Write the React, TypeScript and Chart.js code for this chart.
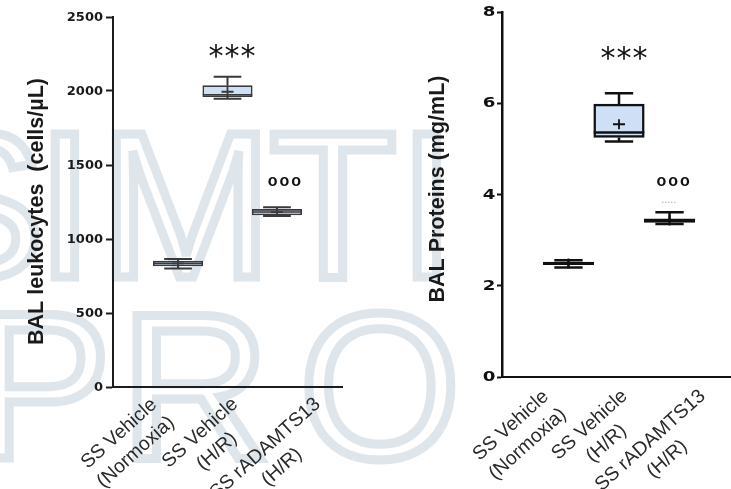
import React, { useEffect, useRef } from "react";
import { Chart, registerables } from "chart.js";

Chart.register(...registerables);

// ---------------- data ----------------
const categoryLabels: string[][] = [
  ["SS Vehicle", "(Normoxia)"],
  ["SS Vehicle", "(H/R)"],
  ["SS rADAMTS13", "(H/R)"],
];
const groupPositions = [1, 2, 3];

const leukMin = [800, 1948, 1155];
const leukQ1 = [818, 1961, 1162];
const leukMedian = [835, 1975, 1182];
const leukQ3 = [851, 2036, 1200];
const leukMax = [865, 2097, 1214];
const leukMean = [835, 1995, 1182];
const leukTicks = [0, 500, 1000, 1500, 2000, 2500];
const leukTitle = "BAL leukocytes  (cells/µL)";
const leukAnnotations = [
  { x: 2.1, y: 2264, text: "***" },
  { x: 3.17, y: 1375, text: "ooo" },
];

const protMin = [2.4, 5.16, 3.355];
const protQ1 = [2.46, 5.25, 3.39];
const protMedian = [2.49, 5.36, 3.43];
const protQ3 = [2.52, 5.98, 3.465];
const protMax = [2.56, 6.22, 3.61];
const protMean = [2.49, 5.54, 3.43];
const protTicks = [0, 2, 4, 6, 8];
const protTitle = "BAL Proteins (mg/mL)";
const protAnnotations = [
  { x: 2.11, y: 7.08, text: "***" },
  { x: 3.09, y: 4.23, text: "ooo" },
];
const protDots = [{ x: 3, y: 3.83 }];

const watermarkTop = ["S", "I", "M", "T", "I"];
const watermarkBottom = ["P", "R", "O"];

// ---------------- styles ----------------
type PanelData = {
  min: number[]; q1: number[]; median: number[]; q3: number[]; max: number[]; mean: number[];
  ticks: number[]; title: string; annotations: { x: number; y: number; text: string }[];
  dots: { x: number; y: number }[];
};
type PanelStyle = {
  left: number; width: number;
  areaLeft: number; areaRight: number; areaTop: number; areaBottom: number;
  yMax: number; axisColor: string; yAxisWidth: number;
  tickLen: number; tickGap: number; tickFont: string; tickScaleX: number; tickColor: string;
  boxStroke: string; lineW: number; boxBorder: number;
  titleX: number; titleY: number;
  labelDy: number; labelDx: number[];
};

const H = 489;
const BOX_FILL = "#cfe0f6";
const CAP_WIDTH = 0.56;
const LABEL_FONT = '19.5px "Liberation Sans"';
const LABEL_ANGLE = 42;
const LABEL_LINE_H = 25;
const LABEL_CAP = 14;

const leftStyle: PanelStyle = {
  left: 0, width: 365,
  areaLeft: 113, areaRight: 342, areaTop: 17, areaBottom: 387,
  yMax: 2500, axisColor: "#1c1c1c", yAxisWidth: 2,
  tickLen: 7, tickGap: 3, tickFont: 'bold 13px "DejaVu Sans"', tickScaleX: 1, tickColor: "#1a1a1a",
  boxStroke: "#3a3a3a", lineW: 2, boxBorder: 1.6,
  titleX: 43, titleY: 211.5,
  labelDy: 8, labelDx: [-2, 2, 8],
};
const rightStyle: PanelStyle = {
  left: 365, width: 380,
  areaLeft: 137, areaRight: 371, areaTop: 12, areaBottom: 377,
  yMax: 8, axisColor: "#111", yAxisWidth: 2.5,
  tickLen: 5, tickGap: 1.5, tickFont: 'bold 14px "DejaVu Sans"', tickScaleX: 1.3, tickColor: "#111",
  boxStroke: "#111", lineW: 2.5, boxBorder: 2.5,
  titleX: 78.5, titleY: 189,
  labelDy: 10, labelDx: [0, 0, 0],
};

function makePlugin(d: PanelData, st: PanelStyle) {
  return {
    id: "boxExtras",
    afterDatasetsDraw(chart: any) {
      const ctx = chart.ctx as CanvasRenderingContext2D;
      const xs = chart.scales.xb;
      const ys = chart.scales.y;
      const unit = xs.getPixelForValue(1) - xs.getPixelForValue(0);
      const meta = chart.getDatasetMeta(0);
      ctx.save();
      ctx.strokeStyle = st.boxStroke;
      ctx.lineWidth = st.lineW;
      groupPositions.forEach((pos, i) => {
        const cx = xs.getPixelForValue(pos);
        const hc = (unit * CAP_WIDTH) / 2;
        const yMax = ys.getPixelForValue(d.max[i]);
        const yQ3 = ys.getPixelForValue(d.q3[i]);
        const yQ1 = ys.getPixelForValue(d.q1[i]);
        const yMin = ys.getPixelForValue(d.min[i]);
        const yMed = ys.getPixelForValue(d.median[i]);
        const yMean = ys.getPixelForValue(d.mean[i]);
        ctx.beginPath();
        ctx.moveTo(cx, yMax); ctx.lineTo(cx, yQ3);
        ctx.moveTo(cx, yQ1); ctx.lineTo(cx, yMin);
        ctx.moveTo(cx - hc, yMax); ctx.lineTo(cx + hc, yMax);
        ctx.moveTo(cx - hc, yMin); ctx.lineTo(cx + hc, yMin);
        ctx.stroke();
        const bw = meta.data[i].width;
        ctx.lineWidth = st.boxBorder;
        ctx.beginPath();
        ctx.moveTo(cx - bw / 2, yMed); ctx.lineTo(cx + bw / 2, yMed);
        ctx.stroke();
        ctx.lineWidth = 1.8;
        ctx.beginPath();
        ctx.moveTo(cx - 6, yMean); ctx.lineTo(cx + 6, yMean);
        ctx.moveTo(cx, yMean - 5); ctx.lineTo(cx, yMean + 5);
        ctx.stroke();
        ctx.lineWidth = st.lineW;
      });
      // annotations
      d.annotations.forEach((a) => {
        const x = xs.getPixelForValue(a.x);
        const y = ys.getPixelForValue(a.y);
        ctx.fillStyle = "#111";
        ctx.textAlign = "center";
        ctx.textBaseline = "middle";
        if (a.text === "***") {
          ctx.font = '30px "DejaVu Sans"';
          (ctx as any).letterSpacing = "1px";
          ctx.fillText(a.text, x, y + 6);
        } else {
          ctx.font = 'bold 16px "Liberation Sans"';
          (ctx as any).letterSpacing = "2px";
          ctx.fillText(a.text, x, y - 2);
        }
        (ctx as any).letterSpacing = "0px";
      });
      d.dots.forEach((p) => {
        const x = xs.getPixelForValue(p.x);
        const y = ys.getPixelForValue(p.y);
        ctx.strokeStyle = "#aaa";
        ctx.lineWidth = 1;
        ctx.setLineDash([1.5, 1.5]);
        ctx.beginPath();
        ctx.moveTo(x - unit * 0.15, y); ctx.lineTo(x + unit * 0.15, y);
        ctx.stroke();
        ctx.setLineDash([]);
      });
      ctx.restore();
    },
    afterDraw(chart: any) {
      const ctx = chart.ctx as CanvasRenderingContext2D;
      const ca = chart.chartArea;
      const ys = chart.scales.y;
      const xc = chart.scales.x;
      ctx.save();
      // y tick labels
      ctx.font = st.tickFont;
      ctx.fillStyle = st.tickColor;
      ctx.textAlign = "right";
      ctx.textBaseline = "middle";
      d.ticks.forEach((v) => {
        const y = ys.getPixelForValue(v);
        ctx.save();
        ctx.translate(ca.left - st.tickLen - st.tickGap, y + 0.5);
        ctx.scale(st.tickScaleX, 1);
        ctx.fillText(String(v), 0, 0);
        ctx.restore();
      });
      // x category labels
      ctx.font = LABEL_FONT;
      ctx.fillStyle = "#2a2a2a";
      ctx.textAlign = "center";
      ctx.textBaseline = "alphabetic";
      categoryLabels.forEach((lines, i) => {
        const px = xc.getPixelForValue(i) + st.labelDx[i];
        const py = ca.bottom + st.labelDy;
        const maxW = Math.max(...lines.map((l) => ctx.measureText(l).width));
        ctx.save();
        ctx.translate(px, py);
        ctx.rotate((-LABEL_ANGLE * Math.PI) / 180);
        lines.forEach((l, j) => ctx.fillText(l, -maxW / 2, LABEL_CAP + j * LABEL_LINE_H));
        ctx.restore();
      });
      // y title
      ctx.font = 'bold 21.5px "Liberation Sans"';
      ctx.fillStyle = "#1a1a1a";
      ctx.textAlign = "center";
      ctx.textBaseline = "alphabetic";
      ctx.translate(st.titleX, st.titleY);
      ctx.rotate(-Math.PI / 2);
      ctx.fillText(d.title, 0, 0);
      ctx.restore();
    },
  };
}

function Panel({ d, st }: { d: PanelData; st: PanelStyle }) {
  const ref = useRef<HTMLCanvasElement | null>(null);
  useEffect(() => {
    if (!ref.current) return;
    const chart = new Chart(ref.current, {
      type: "bar",
      data: {
        labels: categoryLabels as any,
        datasets: [
          {
            data: groupPositions.map((p, i) => ({ x: p, y: [d.q1[i], d.q3[i]] })) as any,
            xAxisID: "xb",
            yAxisID: "y",
            backgroundColor: BOX_FILL,
            borderColor: st.boxStroke,
            borderWidth: st.boxBorder,
            borderSkipped: false,
            barPercentage: 1.0,
            categoryPercentage: 1,
          },
        ],
      },
      options: {
        animation: false,
        responsive: true,
        maintainAspectRatio: false,
        devicePixelRatio: 1,
        layout: { padding: { top: st.areaTop, right: st.width - st.areaRight, left: 0, bottom: 0 } },
        plugins: { legend: { display: false }, tooltip: { enabled: false }, title: { display: false } },
        scales: {
          x: {
            type: "category",
            position: "bottom",
            offset: true,
            grid: { display: false },
            ticks: { display: false },
            border: { display: true, color: st.axisColor, width: 2 },
            afterFit: (s: any) => { s.height = H - st.areaBottom; },
          },
          xb: { type: "linear", display: false, min: -0.315, max: 4.315, offset: false },
          y: {
            type: "linear",
            position: "left",
            min: 0,
            max: st.yMax,
            afterBuildTicks: (s: any) => { s.ticks = d.ticks.map((v) => ({ value: v })); },
            ticks: { display: false },
            grid: { display: true, drawOnChartArea: false, drawTicks: true, tickLength: st.tickLen, tickColor: st.axisColor, tickWidth: 2 },
            border: { display: true, color: st.axisColor, width: st.yAxisWidth },
            afterFit: (s: any) => { s.width = st.areaLeft; },
          },
        } as any,
      },
      plugins: [makePlugin(d, st)],
    } as any);
    return () => chart.destroy();
  }, []);
  return (
    <div style={{ position: "absolute", left: st.left, top: 0, width: st.width, height: H }}>
      <canvas ref={ref} style={{ display: "block" }} />
    </div>
  );
}

export default function App() {
  const leukData: PanelData = {
    min: leukMin, q1: leukQ1, median: leukMedian, q3: leukQ3, max: leukMax, mean: leukMean,
    ticks: leukTicks, title: leukTitle, annotations: leukAnnotations, dots: [],
  };
  const protData: PanelData = {
    min: protMin, q1: protQ1, median: protMedian, q3: protQ3, max: protMax, mean: protMean,
    ticks: protTicks, title: protTitle, annotations: protAnnotations, dots: protDots,
  };
  const topX = [-25, 65, 186, 333, 427];
  const botX = [42, 195, 380];
  return (
    <div style={{ position: "fixed", left: 0, top: 0, width: 731, height: H, overflow: "hidden", background: "#fff" }}>
      <svg width={731} height={H} style={{ position: "absolute", left: 0, top: 0 }}>
        <g fill="none" stroke="#dfe6eb" strokeWidth={9} fontFamily="Liberation Sans" fontSize={208} textAnchor="middle">
          {watermarkTop.map((c, i) => (
            <text key={"t" + i} x={topX[i]} y={277}>{c}</text>
          ))}
          {watermarkBottom.map((c, i) => (
            <text key={"b" + i} x={botX[i]} y={458}>{c}</text>
          ))}
        </g>
      </svg>
      <Panel d={leukData} st={leftStyle} />
      <Panel d={protData} st={rightStyle} />
    </div>
  );
}
